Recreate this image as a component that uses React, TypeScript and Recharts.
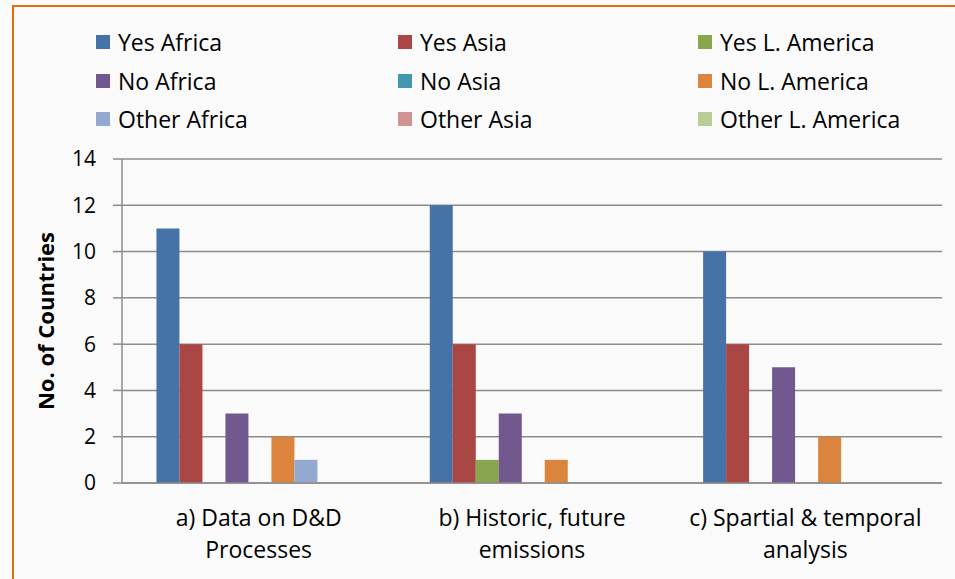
import React from "react"
import { BarChart, Bar, XAxis, YAxis, CartesianGrid } from "recharts"

const categories = [
  ["a) Data on D&D", "Processes"],
  ["b) Historic, future", "emissions"],
  ["c) Spartial & temporal", "analysis"],
]

const seriesNames = [
  "Yes Africa",
  "Yes Asia",
  "Yes L. America",
  "No Africa",
  "No Asia",
  "No L. America",
  "Other Africa",
  "Other Asia",
  "Other L. America",
]

const yesAfrica = [11, 12, 10]
const yesAsia = [6, 6, 6]
const yesLAmerica = [0, 1, 0]
const noAfrica = [3, 3, 5]
const noAsia = [0, 0, 0]
const noLAmerica = [2, 1, 2]
const otherAfrica = [1, 0, 0]
const otherAsia = [0, 0, 0]
const otherLAmerica = [0, 0, 0]

const yTicks = [0, 2, 4, 6, 8, 10, 12, 14]

const COLORS = [
  "#4572A7",
  "#AA4643",
  "#89A54E",
  "#71588F",
  "#4198AF",
  "#DB843D",
  "#93A9CF",
  "#D19392",
  "#B9CD96",
]

const seriesValues = [
  yesAfrica,
  yesAsia,
  yesLAmerica,
  noAfrica,
  noAsia,
  noLAmerica,
  otherAfrica,
  otherAsia,
  otherLAmerica,
]

const chartData = categories.map((lines, i) => {
  const row: Record<string, any> = { name: lines.join("\n") }
  seriesNames.forEach((s, j) => {
    row[s] = seriesValues[j][i]
  })
  return row
})

const FONT = "'Open Sans', sans-serif"

function CategoryTick(props: any) {
  const { x, y, payload } = props
  const lines = String(payload.value).split("\n")
  return (
    <text
      x={x}
      y={y}
      textAnchor="middle"
      fontFamily={FONT}
      fontSize={23}
      fill="#000"
    >
      {lines.map((l, i) => (
        <tspan key={i} x={x} dy={i === 0 ? 35 : 32}>
          {l}
        </tspan>
      ))}
    </text>
  )
}

function LegendGrid() {
  return (
    <div
      style={{
        position: "absolute",
        left: 96,
        top: 23,
        display: "grid",
        gridTemplateColumns: "302px 300px 260px",
        fontFamily: FONT,
        fontSize: 23,
        color: "#000",
      }}
    >
      {seriesNames.map((s, i) => (
        <div
          key={s}
          style={{ display: "flex", alignItems: "center", height: 38.5 }}
        >
          <span
            style={{
              display: "inline-block",
              width: 14,
              height: 14,
              background: COLORS[i],
              marginRight: 8,
            }}
          />
          {s}
        </div>
      ))}
    </div>
  )
}

export default function App() {
  return (
    <div
      style={{
        position: "absolute",
        left: 0,
        top: 0,
        width: 955,
        height: 579,
        background: "#fafafa",
        overflow: "hidden",
      }}
    >
      <div
        style={{
          position: "absolute",
          left: 12,
          top: 5,
          width: 960,
          height: 600,
          borderLeft: "2px solid #E46C0A",
          borderTop: "2px solid #E46C0A",
        }}
      />
      <LegendGrid />
      <BarChart
        width={955}
        height={579}
        data={chartData}
        margin={{ top: 159, right: 13, left: 0, bottom: 0 }}
        barCategoryGap="12.6%"
        barGap={0}
        style={{ position: "absolute", left: 0, top: 0 }}
      >
        <CartesianGrid vertical={false} stroke="#8c8c8c" strokeWidth={1.5} />
        <XAxis
          dataKey="name"
          tick={<CategoryTick />}
          tickLine={false}
          axisLine={{ stroke: "#8c8c8c", strokeWidth: 1.5 }}
          interval={0}
          height={96}
        />
        <YAxis
          width={122}
          domain={[0, 14]}
          ticks={yTicks}
          interval={0}
          tickSize={9}
          tickMargin={17}
          tickLine={{ stroke: "#8c8c8c", strokeWidth: 1.5 }}
          axisLine={{ stroke: "#8c8c8c", strokeWidth: 1.5 }}
          tick={{ fill: "#000", fontSize: 21, fontFamily: FONT }}
          label={{
            content: (p: any) => {
              const vb = p.viewBox
              const cx = 45
              const cy = vb.y + vb.height / 2
              return (
                <text
                  x={cx}
                  y={cy}
                  transform={`rotate(-90 ${cx} ${cy})`}
                  textAnchor="middle"
                  dominantBaseline="central"
                  fontFamily={FONT}
                  fontWeight="bold"
                  fontSize={22}
                  fill="#000"
                >
                  No. of Countries
                </text>
              )
            },
          }}
        />
        {seriesNames.map((s, i) => (
          <Bar key={s} dataKey={s} fill={COLORS[i]} isAnimationActive={false} />
        ))}
      </BarChart>
    </div>
  )
}
